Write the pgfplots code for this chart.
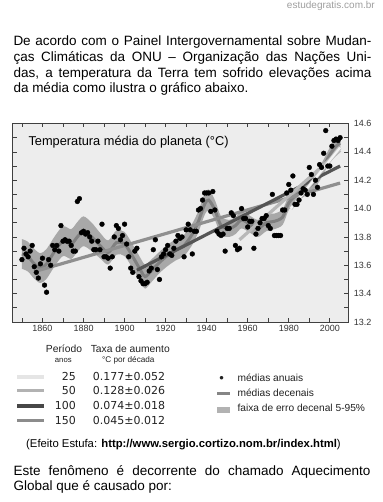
\documentclass[border=0pt]{standalone}
\usepackage{fontspec}
\setmainfont{Liberation Sans}
\newfontfamily\numfont{DejaVu Sans}
\usepackage{pgfplots}
\usepackage{pgfplotstable}
\pgfplotsset{compat=1.18}
\definecolor{bg}{HTML}{EDEDED}
\definecolor{bandc}{HTML}{A8A8A8}
\definecolor{decc}{HTML}{808080}
\definecolor{tA}{HTML}{F4F4F4}
\definecolor{tAo}{HTML}{C4C4C4}
\definecolor{tB}{HTML}{B8B8B8}
\definecolor{tC}{HTML}{555555}
\definecolor{tD}{HTML}{8F8F8F}
\definecolor{txt}{HTML}{222222}

\pgfplotstableread{
year T
1850 13.64
1851 13.72
1852 13.68
1853 13.66
1854 13.70
1855 13.74
1856 13.59
1857 13.55
1858 13.51
1859 13.61
1860 13.65
1861 13.46
1862 13.41
1863 13.64
1864 13.60
1865 13.74
1866 13.71
1867 13.74
1868 13.70
1869 13.88
1870 13.77
1871 13.78
1872 13.77
1873 13.77
1874 13.74
1875 13.70
1876 13.70
1877 14.05
1878 14.07
1879 13.83
1880 13.84
1881 13.82
1882 13.83
1883 13.80
1884 13.77
1885 13.71
1886 13.71
1887 13.77
1888 13.71
1889 13.89
1890 13.66
1891 13.66
1892 13.65
1893 13.58
1894 13.66
1895 13.80
1896 13.88
1897 13.86
1898 13.78
1899 13.81
1900 13.89
1901 13.75
1902 13.66
1903 13.58
1904 13.55
1905 13.70
1906 13.72
1907 13.52
1908 13.49
1909 13.47
1910 13.47
1911 13.48
1912 13.56
1913 13.58
1914 13.71
1915 13.78
1916 13.57
1917 13.50
1918 13.66
1919 13.68
1920 13.71
1921 13.74
1922 13.68
1923 13.67
1924 13.72
1925 13.77
1926 13.81
1927 13.79
1928 13.80
1929 13.66
1930 13.85
1931 13.89
1932 13.85
1933 13.68
1934 13.84
1935 13.84
1936 13.99
1937 14.00
1938 14.06
1939 14.11
1940 14.11
1941 14.11
1942 13.98
1943 14.12
1944 13.99
1945 13.84
1946 13.82
1947 13.81
1948 13.82
1949 13.70
1950 13.86
1951 13.86
1952 13.97
1953 13.95
1954 13.74
1955 13.71
1956 13.72
1957 14.00
1958 13.93
1959 13.93
1960 13.87
1961 13.91
1962 13.91
1963 13.72
1964 13.82
1965 13.86
1966 13.90
1967 13.93
1968 13.93
1969 13.95
1970 13.88
1971 13.86
1972 14.10
1973 13.81
1974 13.81
1975 13.81
1976 13.81
1977 13.99
1978 13.99
1979 14.11
1980 14.17
1981 14.13
1982 14.23
1983 14.03
1984 14.03
1985 14.06
1986 14.11
1987 14.14
1988 14.13
1989 14.10
1990 14.29
1991 14.24
1992 14.10
1993 14.20
1994 14.15
1995 14.31
1996 14.29
1997 14.39
1998 14.55
1999 14.30
2000 14.30
2001 14.44
2002 14.48
2003 14.49
2004 14.48
2005 14.50
}\annual

\pgfplotstableread{
year T
1850 13.68
1853 13.66
1856 13.61
1859 13.58
1862 13.61
1866 13.70
1870 13.77
1874 13.75
1877 13.80
1880 13.84
1884 13.80
1888 13.74
1892 13.69
1896 13.76
1900 13.75
1904 13.66
1908 13.56
1910 13.52
1913 13.56
1917 13.62
1921 13.67
1925 13.71
1929 13.74
1933 13.82
1936 13.91
1939 14.03
1941 14.06
1944 13.99
1947 13.88
1951 13.86
1954 13.88
1957 13.92
1961 13.89
1965 13.86
1969 13.90
1973 13.91
1977 13.94
1980 14.04
1984 14.10
1988 14.14
1992 14.18
1996 14.27
2000 14.38
2003 14.44
2005 14.46
}\decadal

\begin{document}
\begin{tikzpicture}
\path[use as bounding box] (0pt,0pt) rectangle (382pt,-502pt);

% header
\node[anchor=base east, inner sep=0pt, text=black!38, font=\fontsize{10}{12}\selectfont] at (375pt,-9pt) {estudegratis.com.br};

% paragraphs
\begin{scope}[every node/.style={anchor=base west, inner sep=0pt, font=\fontsize{13.5}{16}\selectfont}]
\node at (13.3pt,-45.7pt) {\makebox[358pt][s]{De acordo com o Painel Intergovernamental sobre Mudan-}};
\node at (13.3pt,-61.5pt) {\makebox[358pt][s]{ças Climáticas da ONU – Organização das Nações Uni-}};
\node at (13.3pt,-77.3pt) {\makebox[358pt][s]{das, a temperatura da Terra tem sofrido elevações acima}};
\node at (13.3pt,-93pt) {da média como ilustra o gráfico abaixo.};
\node at (13.3pt,-475pt) {\makebox[357pt][s]{Este fenômeno é decorrente do chamado Aquecimento}};
\node at (13.3pt,-490.5pt) {Global que é causado por:};
\end{scope}

\begin{axis}[
  at={(12.7pt,-322pt)}, anchor=south west,
  scale only axis, width=335.6pt, height=198.5pt,
  xmin=1845.5, xmax=2009, ymin=13.2, ymax=14.6,
  xtick={1860,1880,1900,1920,1940,1960,1980,2000},
  xticklabels={1860,1880,1900,1920,1940,1960,1980,2000},
  minor xtick={1850,1870,1890,1910,1930,1950,1970,1990},
  ytick={13.2,13.4,13.6,13.8,14.0,14.2,14.4,14.6},
  yticklabels={13.2,13.4,13.6,13.8,14.0,14.2,14.4,14.6},
  minor ytick={13.3,13.5,13.7,13.9,14.1,14.3,14.5},
  xtick pos=both, xticklabel pos=lower,
  ytick pos=both, yticklabel pos=right,
  tick align=inside,
  major tick length=4pt, minor tick length=4pt,
  axis background/.style={fill=bg},
  axis line style={black!75, line width=0.8pt},
  tick style={black!75, line width=0.7pt},
  tick label style={font=\fontsize{9}{10}\selectfont, text=black!80},
  yticklabel style={xshift=2pt},
]
% error band 5-95%
\addplot[fill=bandc, draw=none, smooth] coordinates {
(1850,13.785) (1853,13.765) (1856,13.715) (1859,13.685) (1862,13.715) (1866,13.805)
(1870,13.875) (1874,13.855) (1877,13.905) (1880,13.945) (1884,13.900) (1888,13.830)
(1892,13.775) (1896,13.845) (1900,13.835) (1904,13.745) (1908,13.645) (1910,13.605)
(1913,13.640) (1917,13.695) (1921,13.745) (1925,13.785) (1929,13.815) (1933,13.895)
(1936,13.985) (1939,14.105) (1941,14.135) (1944,14.060) (1947,13.945) (1951,13.920)
(1954,13.940) (1957,13.980) (1961,13.950) (1965,13.920) (1969,13.960) (1973,13.965)
(1977,13.995) (1980,14.090) (1984,14.150) (1988,14.190) (1992,14.230) (1996,14.320)
(2000,14.430) (2003,14.490) (2005,14.510)
(2005,14.410) (2003,14.390) (2000,14.330) (1996,14.220) (1992,14.130) (1988,14.090)
(1984,14.050) (1980,13.990) (1977,13.885) (1973,13.855) (1969,13.840) (1965,13.800)
(1961,13.830) (1957,13.860) (1954,13.820) (1951,13.800) (1947,13.815) (1944,13.920)
(1941,13.985) (1939,13.955) (1936,13.835) (1933,13.745) (1929,13.665) (1925,13.635)
(1921,13.595) (1917,13.545) (1913,13.480) (1910,13.435) (1908,13.475) (1904,13.575)
(1900,13.665) (1896,13.675) (1892,13.605) (1888,13.650) (1884,13.700) (1880,13.735)
(1877,13.695) (1874,13.645) (1870,13.665) (1866,13.595) (1862,13.505) (1859,13.475)
(1856,13.505) (1853,13.555) (1850,13.575)
} -- cycle;
% decadal means
\addplot[decc, line width=3pt, smooth] table[x=year, y=T] {\decadal};
% linear trends
\addplot[tD, line width=3.2pt] coordinates {(1856,13.555) (2005,14.18)};
\addplot[tC, line width=3.2pt] coordinates {(1906,13.565) (2005,14.30)};
\addplot[tB, line width=3.2pt] coordinates {(1956,13.78) (2005,14.41)};
\addplot[tAo, line width=3.6pt] coordinates {(1981,14.00) (2005,14.43)};
\addplot[tA, line width=2.2pt] coordinates {(1981,14.00) (2005,14.43)};
% annual means
\addplot[only marks, mark=*, mark size=2.4pt, mark options={fill=black, draw=black}] table[x=year, y=T] {\annual};
\end{axis}

\node[anchor=base west, inner sep=0pt, font=\fontsize{12.8}{14}\selectfont] at (28.3pt,-146pt) {Temperatura média do planeta (°C)};

% legend (left table)
\begin{scope}[every node/.style={inner sep=0pt, text=txt}]
\node[anchor=base, font=\fontsize{10.3}{12}\selectfont] at (64pt,-352.3pt) {Período};
\node[anchor=base, font=\fontsize{7.7}{9}\selectfont] at (63.3pt,-362.5pt) {anos};
\node[anchor=base, font=\fontsize{10.3}{12}\selectfont] at (130.3pt,-352.3pt) {Taxa de aumento};
\node[anchor=base, font=\fontsize{8.2}{9}\selectfont] at (128.3pt,-362.5pt) {°C por década};

\fill[black!10] (16.7pt,-378.7pt) rectangle (44pt,-375.3pt);
\node[anchor=base east, font=\numfont\fontsize{11}{13}\selectfont] at (76pt,-380.7pt) {25};
\node[anchor=base west, font=\numfont\fontsize{11}{13}\selectfont] at (92.7pt,-380.7pt) {0.177±0.052};

\fill[black!30] (16.7pt,-392.3pt) rectangle (44pt,-389pt);
\node[anchor=base east, font=\numfont\fontsize{11}{13}\selectfont] at (76pt,-394.5pt) {50};
\node[anchor=base west, font=\numfont\fontsize{11}{13}\selectfont] at (92.7pt,-394.5pt) {0.128±0.026};

\fill[black!72] (16.7pt,-407.8pt) rectangle (44pt,-404.3pt);
\node[anchor=base east, font=\numfont\fontsize{11}{13}\selectfont] at (76pt,-409.8pt) {100};
\node[anchor=base west, font=\numfont\fontsize{11}{13}\selectfont] at (92.7pt,-409.8pt) {0.074±0.018};

\fill[black!45] (16.7pt,-422.3pt) rectangle (44pt,-418.8pt);
\node[anchor=base east, font=\numfont\fontsize{11}{13}\selectfont] at (76pt,-424.3pt) {150};
\node[anchor=base west, font=\numfont\fontsize{11}{13}\selectfont] at (92.7pt,-424.3pt) {0.045±0.012};

% right legend
\node[anchor=base, font=\fontsize{13}{14}\selectfont] at (221.7pt,-382pt) {•};
\node[anchor=base west, font=\fontsize{10.2}{12}\selectfont] at (237.3pt,-381.3pt) {médias anuais};
\fill[black!48] (216.7pt,-395pt) rectangle (230pt,-391.8pt);
\node[anchor=base west, font=\fontsize{10.2}{12}\selectfont] at (237.3pt,-396.5pt) {médias decenais};
\fill[black!30] (216.7pt,-412.5pt) rectangle (230pt,-406.5pt);
\node[anchor=base west, font=\fontsize{10.2}{12}\selectfont] at (237.3pt,-411.7pt) {faixa de erro decenal 5-95\%};
\end{scope}

% source
\node[anchor=base west, inner sep=0pt, font=\fontsize{11.3}{13}\selectfont] at (26pt,-447.7pt) {(Efeito Estufa: \textbf{http://www.sergio.cortizo.nom.br/index.html})};
\end{tikzpicture}
\end{document}
